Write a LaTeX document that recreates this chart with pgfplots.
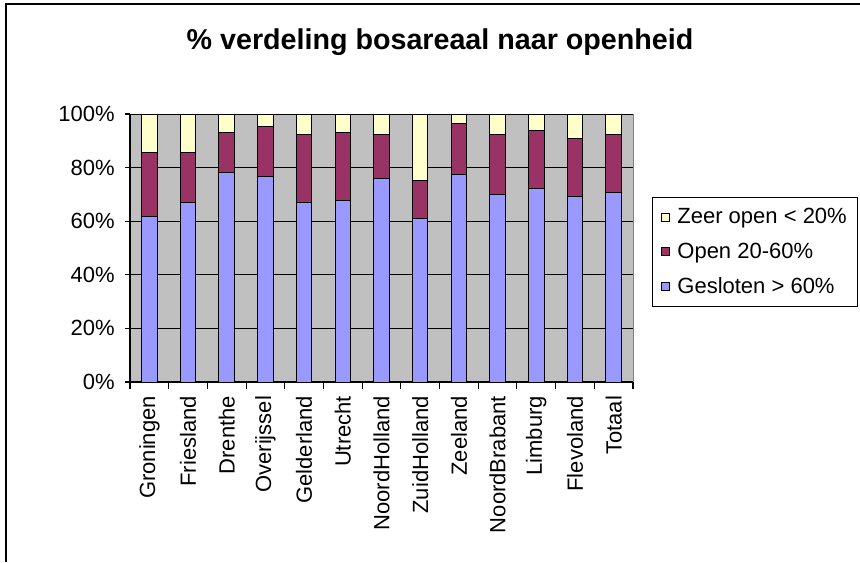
\documentclass[border=0pt]{standalone}
\usepackage{pgfplots}
\pgfplotsset{compat=1.18}
\usepackage{fontspec}
\setmainfont{Liberation Sans}
\definecolor{cblue}{HTML}{9999FF}
\definecolor{cmaroon}{HTML}{993366}
\definecolor{cyellow}{HTML}{FFFFCC}
\definecolor{cgray}{HTML}{C0C0C0}
\begin{document}
\begin{tikzpicture}
\useasboundingbox (0,0) rectangle (645pt,-421.5pt);
\fill[white] (0,0) rectangle (645pt,-421.5pt);
\draw[line width=1.5pt] (4.5pt,-421.5pt) -- (4.5pt,-3pt) -- (645pt,-3pt);
\node[font=\fontsize{21.5}{25}\selectfont\bfseries] at (330pt,-31.5pt) {\% verdeling bosareaal naar openheid};
\fill[cgray] (97.5pt,-286.5pt) rectangle (474.75pt,-85.5pt);
\draw[gray, line width=0.75pt] (474.75pt,-286.5pt) -- (474.75pt,-85.5pt);
\foreach \yy in {-246.3,-206.1,-165.9,-125.7,-85.5}
  \draw[black, line width=0.75pt] (97.5pt,\yy pt) -- (474.75pt,\yy pt);
\begin{axis}[
  at={(97.5pt,-286.5pt)}, anchor=south west,
  scale only axis, width=377.25pt, height=201pt,
  ybar stacked, bar width=11.6pt,
  xmin=-0.5, xmax=12.5, ymin=0, ymax=100,
  axis x line*=bottom, axis y line*=left,
  axis line style={black, line width=0.8pt},
  ytick={0,20,40,60,80,100},
  yticklabels={0\%,20\%,40\%,60\%,80\%,100\%},
  xtick={0,...,12},
  xticklabels={Groningen,Friesland,Drenthe,Overijssel,Gelderland,Utrecht,NoordHolland,ZuidHolland,Zeeland,NoordBrabant,Limburg,Flevoland,Totaal},
  x tick label style={rotate=90, anchor=east, xshift=-3pt},
  major x tick style={draw=none},
  extra x ticks={-0.5,0.5,...,12.5},
  extra x tick labels={},
  extra x tick style={major tick length=5pt, major x tick style={draw=black, line width=0.8pt}},
  major y tick style={black, line width=0.8pt},
  tick align=outside, major tick length=4pt,
  tick label style={font=\fontsize{16.5}{19}\selectfont},
  yticklabel style={xshift=-4pt},
  /pgf/number format/assume math mode=true,
  legend style={at={(1.038,0.69)}, anchor=north west, draw=black, line width=0.75pt, fill=white,
    font=\fontsize{16.5}{19}\selectfont, row sep=9pt, column sep=4pt, inner xsep=6pt, inner ysep=6pt,
    legend cell align=left},
  legend image code/.code={\draw[#1, line width=0.6pt] (0pt,-3pt) rectangle (6pt,3pt);},
  reverse legend,
]
\addplot[fill=cblue, draw=black, line width=0.75pt] coordinates {(0,61.7) (1,67.0) (2,78.2) (3,76.7) (4,67.0) (5,67.6) (6,75.8) (7,61.0) (8,77.4) (9,70.1) (10,72.2) (11,69.2) (12,70.7)};
\addplot[fill=cmaroon, draw=black, line width=0.75pt] coordinates {(0,24.0) (1,18.7) (2,14.8) (3,18.6) (4,25.3) (5,25.4) (6,16.5) (7,14.1) (8,18.9) (9,22.3) (10,21.7) (11,21.7) (12,21.7)};
\addplot[fill=cyellow, draw=black, line width=0.75pt] coordinates {(0,14.3) (1,14.3) (2,7.0) (3,4.7) (4,7.7) (5,7.0) (6,7.7) (7,24.9) (8,3.7) (9,7.6) (10,6.1) (11,9.1) (12,7.6)};
\legend{Gesloten > 60\%, Open 20-60\%, Zeer open < 20\%}
\end{axis}
\end{tikzpicture}
\end{document}
